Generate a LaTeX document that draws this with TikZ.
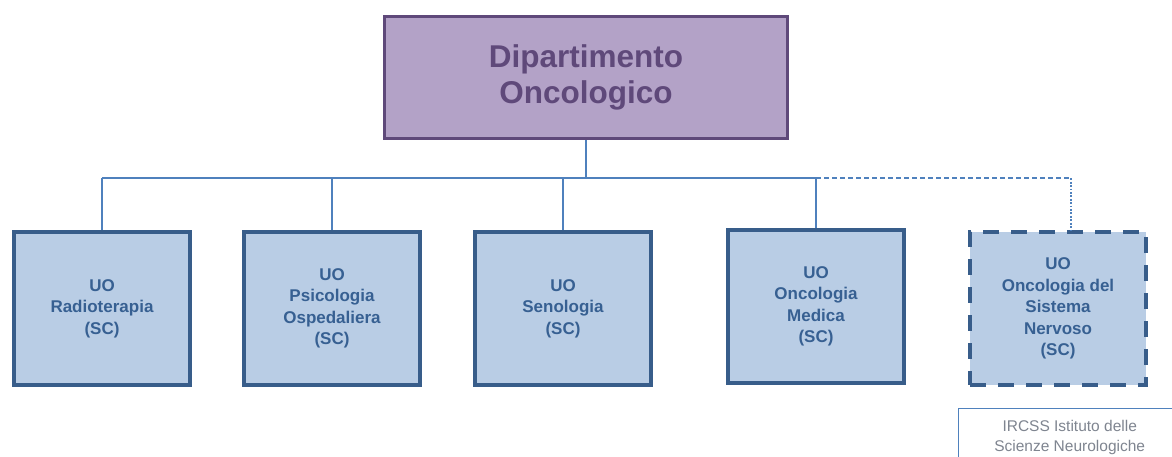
\documentclass[tikz,border=0pt]{standalone}
\usepackage{fontspec}
\setmainfont{Liberation Sans}
\definecolor{pfill}{HTML}{B3A2C7}
\definecolor{pdraw}{HTML}{5F497A}
\definecolor{bfill}{HTML}{B9CDE5}
\definecolor{bdraw}{HTML}{385D8A}
\definecolor{btext}{HTML}{376092}
\definecolor{conncol}{HTML}{4F81BD}
\definecolor{graytext}{HTML}{7F8590}
\begin{document}
\begin{tikzpicture}[x=1pt,y=-1pt,
  topbox/.style={draw=pdraw,fill=pfill,line width=3pt,minimum width=403pt,minimum height=122pt,
    text=pdraw,font=\fontsize{31.5}{36}\selectfont\bfseries,align=center,inner sep=0pt},
  unitbox/.style={draw=bdraw,fill=bfill,line width=4pt,minimum width=176pt,minimum height=153pt,
    text=btext,font=\fontsize{17}{21.5}\selectfont\bfseries,align=center,inner sep=0pt},
  dashbox/.style={unitbox,dash pattern=on 16pt off 12pt},
  notebox/.style={draw=conncol,fill=white,line width=1.4pt,minimum width=222pt,minimum height=58pt,
    text=graytext,font=\fontsize{15.5}{20}\selectfont,align=center,inner sep=0pt},
  conn/.style={draw=conncol,line width=2pt},
]
\useasboundingbox (0,0) rectangle (1172,457);
\node[topbox] (top) at (586,77.5) {Dipartimento\\Oncologico};
\node[unitbox] (b1) at (102,308.5) {UO\\Radioterapia\\(SC)};
\node[unitbox] (b2) at (332,308.5) {UO\\Psicologia\\Ospedaliera\\(SC)};
\node[unitbox] (b3) at (563,308.5) {UO\\Senologia\\(SC)};
\node[unitbox] (b4) at (816,306.5) {UO\\Oncologia\\Medica\\(SC)};
\node[dashbox] (b5) at (1058,308.5) {UO\\Oncologia del\\Sistema\\Nervoso\\(SC)};
\node[notebox,anchor=north west] (note) at (958,408) {IRCSS Istituto delle\\Scienze Neurologiche};
\coordinate (busL) at (102,178.5);
\coordinate (busR) at (816,178.5);
\coordinate (busD) at (1070.5,178.5);
\draw[conn] (top.south) -- (top.south |- busL);
\draw[conn] (busL) -- (busR);
\draw[conn] (busL) -- (b1.north);
\draw[conn] (b2.north |- busL) -- (b2.north);
\draw[conn] (b3.north |- busL) -- (b3.north);
\draw[conn] (busR) -- (b4.north);
\draw[conn,dash pattern=on 5pt off 3pt] (busR) -- (busD);
\draw[conn,dash pattern=on 1.8pt off 1.6pt] (busD) -- (busD |- b5.north);
\end{tikzpicture}
\end{document}
